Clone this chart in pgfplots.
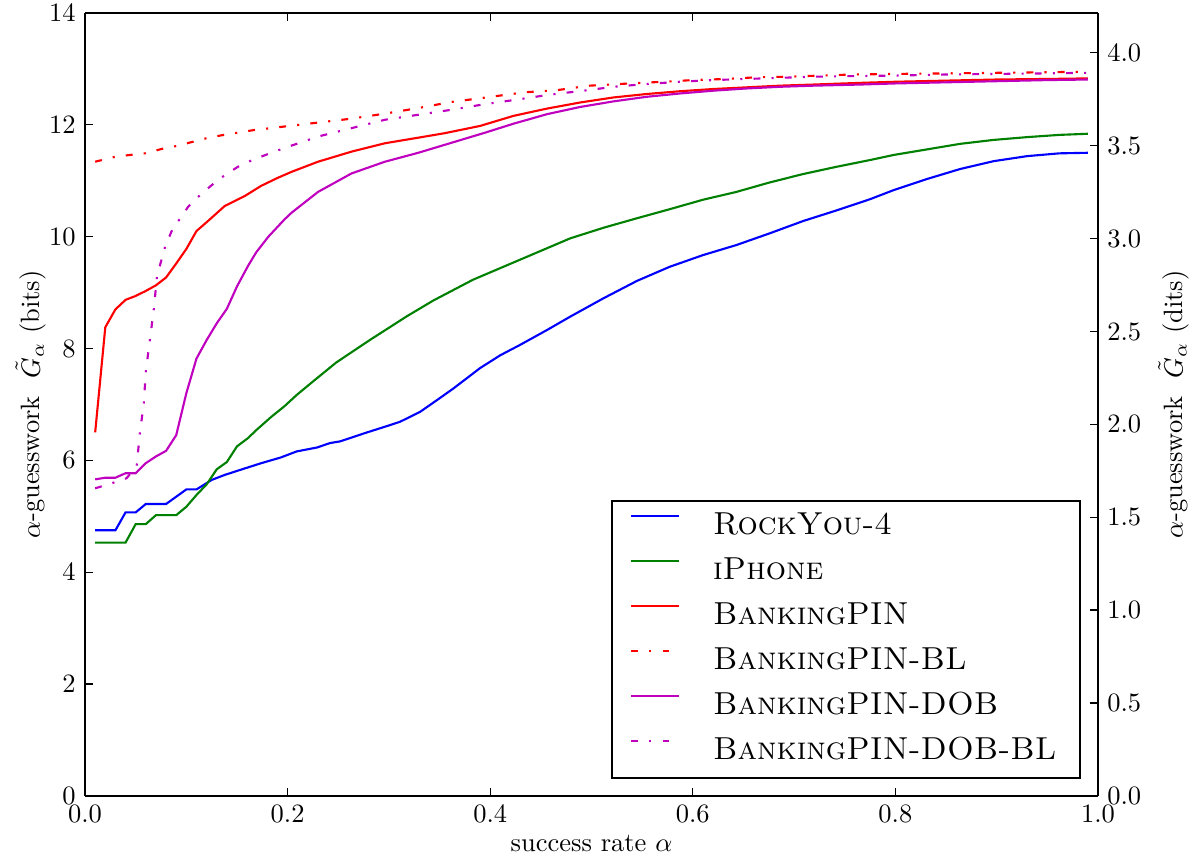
\documentclass[border=0pt]{standalone}
\usepackage{pgfplots}
\pgfplotsset{compat=1.18}
\definecolor{mplblue}{rgb}{0,0,1}
\definecolor{mplgreen}{rgb}{0,0.5,0}
\definecolor{mplred}{rgb}{1,0,0}
\definecolor{mplmag}{rgb}{0.75,0,0.75}
\tikzset{mpldashdot/.style={dash pattern=on 2.6pt off 4.2pt on 0.8pt off 4.2pt}}
\begin{document}
\begin{tikzpicture}
\pgfplotsset{
  common/.style={
    scale only axis, width=382.3pt, height=295.5pt,
    xmin=0, xmax=1,
    tick align=inside, major tick length=3pt,
    every tick/.style={black, line width=0.5pt},
    axis line style={line width=1pt},
    tick label style={font=\normalsize},
    label style={font=\normalsize},
  }
}
\begin{axis}[common, name=ax,
  ymin=0, ymax=14,
  axis y line*=left,
  ytick={0,2,...,14},
  xtick={0,0.2,...,1.0},
  xticklabel style={/pgf/number format/.cd, fixed, fixed zerofill, precision=1},
  xlabel={success rate $\alpha$},
  ylabel={$\alpha$-guesswork\ \ $\tilde{G}_\alpha$ (bits)},
  every axis x label/.style={at={([yshift=-17.9pt]rel axis cs:0.5,0)}, anchor=center},
  every axis y label/.style={at={([xshift=-20.4pt]rel axis cs:0,0.5)}, anchor=center, rotate=90},
  every axis plot/.append style={line width=0.8pt},
  legend image code/.code={\draw[#1] (0pt,4pt) -- (18pt,4pt);},
  legend cell align=left,
  legend style={at={(0.9833,0.0217)}, anchor=south east, draw=black, line width=0.8pt,
    font=\large, inner xsep=6.8pt, inner ysep=1.25pt, row sep=0pt,
    nodes={inner xsep=2pt, inner ysep=2.5pt, text height=9pt, text depth=3pt},
    /tikz/every odd column/.append style={column sep=10.5pt}},
]
\addplot[mplblue] coordinates {(0.01,4.75)(0.02,4.75)(0.03,4.75)(0.04,5.07)(0.05,5.07)(0.06,5.22)(0.07,5.22)(0.08,5.22)(0.09,5.35)(0.10,5.48)(0.11,5.48)(0.125,5.65)(0.138,5.74)(0.155,5.84)(0.174,5.95)(0.193,6.05)(0.209,6.16)(0.229,6.23)(0.242,6.31)(0.252,6.34)(0.275,6.48)(0.301,6.63)(0.311,6.69)(0.331,6.87)(0.350,7.11)(0.364,7.29)(0.390,7.65)(0.410,7.88)(0.429,8.06)(0.456,8.33)(0.479,8.57)(0.512,8.90)(0.545,9.21)(0.577,9.46)(0.610,9.67)(0.643,9.85)(0.676,10.06)(0.709,10.28)(0.742,10.47)(0.775,10.67)(0.798,10.83)(0.831,11.03)(0.864,11.21)(0.897,11.35)(0.930,11.44)(0.962,11.49)(0.99,11.50)};
\addlegendentry{\textsc{RockYou-4}}
\addplot[mplgreen] coordinates {(0.01,4.53)(0.02,4.53)(0.03,4.53)(0.04,4.53)(0.05,4.86)(0.06,4.86)(0.07,5.02)(0.08,5.02)(0.09,5.02)(0.10,5.17)(0.11,5.38)(0.12,5.57)(0.13,5.84)(0.14,5.97)(0.15,6.25)(0.161,6.40)(0.169,6.54)(0.184,6.78)(0.197,6.97)(0.209,7.17)(0.225,7.41)(0.248,7.75)(0.281,8.15)(0.318,8.58)(0.344,8.86)(0.383,9.23)(0.479,9.97)(0.512,10.16)(0.545,10.33)(0.577,10.49)(0.610,10.66)(0.643,10.80)(0.676,10.97)(0.709,11.12)(0.742,11.25)(0.775,11.37)(0.798,11.46)(0.831,11.56)(0.864,11.66)(0.897,11.73)(0.930,11.78)(0.962,11.82)(0.99,11.84)};
\addlegendentry{\textsc{iPhone}}
\addplot[mplred] coordinates {(0.01,6.50)(0.02,8.38)(0.03,8.70)(0.04,8.87)(0.05,8.94)(0.06,9.03)(0.07,9.13)(0.08,9.27)(0.09,9.52)(0.10,9.78)(0.11,10.10)(0.122,10.29)(0.138,10.55)(0.158,10.73)(0.174,10.91)(0.19,11.05)(0.204,11.16)(0.230,11.34)(0.263,11.52)(0.296,11.67)(0.329,11.77)(0.355,11.85)(0.390,11.98)(0.423,12.16)(0.456,12.29)(0.489,12.40)(0.522,12.49)(0.554,12.55)(0.587,12.60)(0.620,12.64)(0.653,12.67)(0.686,12.70)(0.719,12.72)(0.765,12.75)(0.8,12.77)(0.85,12.79)(0.9,12.81)(0.95,12.82)(0.99,12.83)};
\addlegendentry{\textsc{BankingPIN}}
\addplot[mplred, mpldashdot] coordinates {(0.01,11.34)(0.03,11.43)(0.044,11.46)(0.059,11.49)(0.076,11.57)(0.09,11.62)(0.105,11.69)(0.122,11.77)(0.137,11.82)(0.151,11.86)(0.168,11.91)(0.183,11.94)(0.197,11.97)(0.230,12.04)(0.263,12.11)(0.296,12.20)(0.329,12.30)(0.362,12.41)(0.388,12.47)(0.433,12.58)(0.466,12.62)(0.498,12.70)(0.538,12.74)(0.571,12.77)(0.6,12.80)(0.633,12.82)(0.663,12.85)(0.693,12.86)(0.725,12.88)(0.758,12.90)(0.8,12.91)(0.85,12.92)(0.9,12.93)(0.95,12.94)(0.99,12.95)};
\addlegendentry{\textsc{BankingPIN-BL}}
\addplot[mplmag] coordinates {(0.01,5.66)(0.02,5.69)(0.03,5.69)(0.04,5.77)(0.05,5.77)(0.06,5.95)(0.07,6.07)(0.08,6.17)(0.09,6.45)(0.10,7.20)(0.11,7.82)(0.12,8.15)(0.13,8.45)(0.14,8.71)(0.15,9.11)(0.161,9.48)(0.169,9.72)(0.181,10.0)(0.197,10.31)(0.204,10.43)(0.230,10.80)(0.263,11.13)(0.296,11.34)(0.329,11.50)(0.362,11.68)(0.395,11.86)(0.423,12.02)(0.456,12.19)(0.489,12.32)(0.522,12.42)(0.554,12.50)(0.587,12.56)(0.620,12.61)(0.653,12.65)(0.686,12.68)(0.719,12.70)(0.765,12.72)(0.8,12.74)(0.85,12.76)(0.9,12.78)(0.95,12.80)(0.99,12.81)};
\addlegendentry{\textsc{BankingPIN-DOB}}
\addplot[mplmag, mpldashdot] coordinates {(0.01,5.50)(0.028,5.60)(0.041,5.68)(0.051,5.90)(0.054,6.47)(0.058,7.02)(0.060,7.59)(0.064,8.15)(0.068,8.72)(0.071,9.29)(0.079,9.82)(0.086,10.12)(0.094,10.33)(0.102,10.54)(0.114,10.75)(0.125,10.92)(0.138,11.10)(0.151,11.25)(0.165,11.37)(0.181,11.48)(0.196,11.58)(0.230,11.79)(0.263,11.94)(0.296,12.09)(0.329,12.18)(0.362,12.27)(0.395,12.37)(0.426,12.45)(0.459,12.54)(0.492,12.61)(0.522,12.68)(0.554,12.73)(0.587,12.77)(0.620,12.80)(0.653,12.82)(0.686,12.84)(0.719,12.86)(0.752,12.87)(0.8,12.88)(0.85,12.90)(0.9,12.91)(0.95,12.92)(0.99,12.93)};
\addlegendentry{\textsc{BankingPIN-DOB-BL}}
\end{axis}
\begin{axis}[common,
  ymin=0, ymax=4.21442,
  axis y line*=right, axis x line=none,
  ytick={0,0.5,...,4.0},
  yticklabel style={/pgf/number format/.cd, fixed, fixed zerofill, precision=1},
  ylabel={$\alpha$-guesswork\ \ $\tilde{G}_\alpha$ (dits)},
  every axis y label/.style={at={([xshift=28.6pt]rel axis cs:1,0.5)}, anchor=center, rotate=90},
]
\addplot[draw=none] coordinates {(0,0)};
\end{axis}
\pgfresetboundingbox
\path[use as bounding box] ([xshift=-32.1pt,yshift=-23pt]ax.south west) rectangle ([xshift=35.5pt,yshift=4.9pt]ax.north east);
\end{tikzpicture}
\end{document}
